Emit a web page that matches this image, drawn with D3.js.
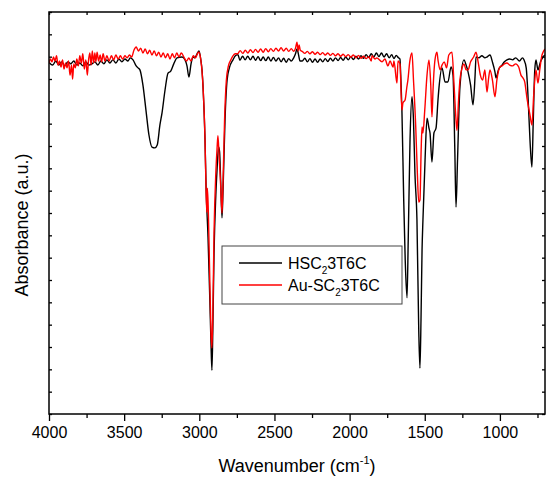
<!DOCTYPE html>
<html><head><meta charset="utf-8">
<script src="https://cdn.jsdelivr.net/npm/d3@7"></script>
<style>
body{margin:0;background:#fff}
svg{display:block}
text{font-family:Arial,"Liberation Sans",Helvetica,sans-serif;fill:#000}
</style>
</head><body>
<svg id="chart" width="546" height="479"></svg>
<script>
// ---------- DATA ----------
const seriesNames = ["HSC2 3T6C", "Au-SC2 3T6C"];
const seriesColors = ["#000000", "#ff0000"];

// HSC2 3T6C : [wavenumber (cm-1), absorbance (a.u.)]
const hscData = [
[4000,87.6],[3995,87.3],[3975,86.8],[3955,87.8],[3935,86.8],[3915,87.6],[3895,86.6],[3875,87.6],[3855,87.1],[3835,87.8],
[3815,86.8],[3795,87.3],[3775,86.6],[3755,87.6],[3735,86.8],[3715,87.1],[3695,87.6],[3675,86.8],[3655,87.8],[3635,87.1],
[3615,88.1],[3595,87.3],[3575,88.1],[3555,87.3],[3535,88.3],[3515,87.6],[3495,88.3],[3475,87.8],[3460,88.6],[3441,88.1],
[3420,86.6],[3408,86.1],[3395,85.6],[3375,81.8],[3355,75.6],[3335,69.4],[3315,66.4],[3295,66.2],[3280,66.9],[3262,71.9],
[3248,74.9],[3228,80.6],[3208,84.8],[3190,85.3],[3170,87.1],[3148,88.6],[3115,88.8],[3095,88.1],[3082,86.6],[3069,83.8],
[3055,87.1],[3042,88.8],[3030,88.6],[3015,89.6],[3002,90.3],[2990,88.1],[2982,85.6],[2975,81.3],[2962,68.2],[2955,56.5],
[2942,44.0],[2930,28.4],[2922,17.2],[2916,10.9],[2910,20.9],[2902,40.0],[2890,54.5],[2882,60.7],[2872,66.4],[2865,65.2],
[2858,58.2],[2849,48.8],[2842,55.7],[2829,73.1],[2815,83.1],[2800,86.1],[2776,88.1],[2760,89.1],[2743,89.4],
[2730,88.0],[2712,89.0],[2695,88.1],[2678,89.0],[2660,88.1],[2643,89.0],[2626,88.0],[2609,88.9],[2592,87.9],[2575,88.8],
[2558,87.9],[2541,88.8],[2524,87.8],[2507,88.7],[2490,87.8],[2473,88.6],[2456,87.6],[2439,88.5],[2422,87.5],[2405,88.4],
[2388,87.8],[2372,88.6],[2360,89.6],[2350,90.8],[2340,89.4],[2330,87.8],
[2315,87.8],[2298,88.5],[2281,87.6],[2264,88.4],[2247,87.5],[2230,88.3],[2213,87.5],[2196,88.3],[2179,87.6],[2162,88.4],
[2145,87.7],[2128,88.5],[2111,87.8],[2094,88.6],[2077,87.9],[2060,88.7],[2043,88.0],[2026,88.8],[2009,88.1],[1992,88.9],
[1975,88.2],[1958,89.0],[1941,88.3],[1924,89.1],[1907,88.5],[1890,89.4],[1873,88.7],[1856,89.6],[1839,88.8],[1822,89.8],
[1805,88.9],[1788,89.8],[1771,88.8],[1754,89.6],[1737,88.6],[1720,89.4],[1705,88.4],[1690,89.2],[1675,88.6],[1665,88.3],
[1660,84.3],[1652,75.6],[1640,53.2],[1630,38.3],[1618,28.9],[1610,43.3],[1598,68.2],[1585,78.9],[1575,73.1],[1565,59.5],
[1552,48.3],[1540,20.9],[1532,11.4],[1525,23.4],[1518,40.8],[1512,48.3],[1498,63.2],[1485,73.6],[1472,71.1],[1465,69.9],
[1452,62.7],[1439,69.9],[1425,71.1],[1412,78.1],[1405,81.3],[1385,86.1],[1365,82.6],[1346,82.6],[1325,86.3],[1312,84.3],
[1300,65.7],[1292,51.5],[1282,63.2],[1266,81.3],[1239,88.1],[1225,86.8],[1212,85.1],[1195,81.8],[1179,76.9],[1165,84.3],
[1159,88.8],[1140,88.6],[1120,89.1],[1100,88.6],[1086,88.8],[1066,89.3],[1050,87.6],[1033,85.1],[1026,83.6],[1010,85.6],
[986,86.8],[970,87.6],[953,88.1],[935,88.3],[915,88.1],[895,88.6],[870,87.8],[850,88.6],[840,88.1],[825,86.1],
[815,80.6],[800,68.2],[787,61.4],[778,73.1],[768,85.6],[760,88.1],[747,85.6],[730,87.6],[713,88.8],[700,89.3]
];

// Au-SC2 3T6C : [wavenumber (cm-1), absorbance (a.u.)]
const auData = [
[4000,87.3],[3990,88.3],[3980,87.6],[3970,88.8],[3960,87.8],[3950,89.1],[3940,86.8],[3930,87.8],[3920,86.3],[3910,88.1],
[3900,85.8],[3890,87.3],[3880,86.1],[3870,87.8],[3860,84.3],[3850,86.8],[3843,83.3],[3835,87.1],[3825,86.1],[3815,88.3],
[3805,86.6],[3795,89.1],[3785,87.3],[3775,89.6],[3765,85.8],[3755,88.1],[3745,84.3],[3738,87.6],[3728,89.8],[3720,86.8],
[3712,90.3],[3703,87.3],[3695,89.8],[3688,87.6],[3680,90.0],[3670,87.8],[3660,89.3],[3650,87.6],[3640,89.6],[3628,87.8],
[3615,89.1],[3600,87.8],[3585,89.1],[3570,88.1],[3555,89.3],[3540,88.3],[3525,89.1],[3510,88.3],[3495,89.1],[3480,88.6],
[3465,89.3],[3450,88.8],[3435,90.5],[3420,91.3],[3405,90.3],[3390,91.0],[3375,89.8],[3360,90.8],[3345,89.6],[3330,90.5],
[3315,89.3],[3300,90.3],[3285,89.1],[3270,90.0],[3255,88.8],[3240,89.8],[3225,88.6],[3210,89.6],[3195,88.3],[3180,89.6],
[3165,88.6],[3150,89.8],[3135,88.8],[3120,89.8],[3100,88.6],[3085,87.8],[3070,88.6],[3055,87.8],[3040,89.1],[3025,88.6],
[3010,89.8],[3002,90.0],[2990,88.1],[2982,85.3],[2975,81.3],[2962,68.2],[2955,55.5],[2950,50.2],[2946,56.2],[2940,50.5],
[2930,33.0],[2922,20.0],[2916,16.4],[2910,25.0],[2902,45.0],[2890,60.0],[2882,66.0],[2876,69.2],[2868,64.0],[2858,57.0],
[2849,50.0],[2842,58.0],[2832,73.0],[2820,83.0],[2805,86.8],[2790,88.1],[2776,89.1],[2760,89.6],
[2745,89.6],[2728,90.4],[2711,89.7],[2694,90.5],[2677,89.8],[2660,90.6],[2643,89.9],[2626,90.7],[2609,90.0],[2592,90.8],
[2575,90.0],[2558,90.9],[2541,90.1],[2524,90.9],[2507,90.2],[2490,91.0],[2473,90.3],[2456,91.1],[2439,90.3],[2422,91.0],
[2405,90.2],[2388,90.9],[2372,90.2],[2360,91.0],[2350,92.5],[2343,90.3],[2336,91.8],[2328,90.5],
[2315,90.2],[2298,89.7],[2281,90.2],[2264,89.6],[2247,90.1],[2230,89.5],[2213,90.0],[2196,89.4],[2179,89.9],[2162,89.3],
[2145,89.8],[2128,89.2],[2111,89.7],[2094,89.1],[2077,89.6],[2060,89.0],[2043,89.5],[2026,88.9],[2009,89.4],[1992,88.8],
[1975,89.3],[1958,88.6],[1941,89.2],[1924,88.5],[1907,89.0],[1890,88.4],[1873,88.9],[1856,87.8],[1851,89.1],[1831,88.3],
[1820,88.6],[1784,87.6],[1765,88.3],[1745,86.6],[1731,87.8],[1711,86.3],[1705,87.8],[1685,82.3],[1678,87.8],[1665,87.1],
[1652,75.6],[1645,77.4],[1631,78.1],[1620,81.1],[1612,83.1],[1600,87.6],[1585,89.8],[1575,83.1],[1560,71.4],[1550,60.7],
[1540,52.7],[1532,53.2],[1524,65.7],[1518,71.4],[1512,69.9],[1500,75.6],[1485,84.3],[1472,88.1],[1460,81.8],[1452,73.9],
[1445,80.6],[1432,88.1],[1419,90.0],[1412,88.1],[1398,85.6],[1385,86.8],[1370,87.6],[1355,86.1],[1340,89.3],[1319,90.0],
[1305,81.8],[1292,73.1],[1286,70.6],[1275,78.1],[1266,83.1],[1250,86.3],[1239,87.1],[1225,85.6],[1212,85.6],[1195,87.6],
[1175,88.8],[1159,90.0],[1145,87.6],[1130,84.3],[1115,83.1],[1100,85.6],[1086,80.1],[1075,83.6],[1066,85.6],[1050,83.1],
[1033,78.9],[1020,83.1],[1000,86.3],[986,86.6],[970,87.1],[953,87.3],[935,86.8],[915,86.6],[895,87.1],[875,86.3],
[860,84.3],[847,83.6],[835,82.6],[820,78.6],[800,74.4],[787,71.9],[775,79.4],[760,85.6],[747,82.3],[735,85.6],
[720,89.3],[713,90.0],[700,90.8]
];

const xMajorTicks = [4000, 3500, 3000, 2500, 2000, 1500, 1000];
const xTickLabels = ["4000", "3500", "3000", "2500", "2000", "1500", "1000"];
const xMinorTicks = [3750, 3250, 2750, 2250, 1750, 1250, 750];
const xDomain = [4000, 700];
const yDomain = [0, 100];
const xTitle = "Wavenumber (cm";
const yTitle = "Absorbance (a.u.)";

// ---------- LAYOUT ----------
const svg = d3.select("#chart");
const L = 49, R = 545, T = 12, B = 414;
const x = d3.scaleLinear().domain(xDomain).range([L, R]);
const y = d3.scaleLinear().domain(yDomain).range([B, T]);

svg.append("defs").append("clipPath").attr("id", "clip")
  .append("rect").attr("x", L).attr("y", T).attr("width", R - L).attr("height", B - T);

const line = d3.line().x(d => x(d[0])).y(d => y(d[1])).curve(d3.curveMonotoneX);

const plot = svg.append("g").attr("clip-path", "url(#clip)");
[hscData, auData].forEach((data, i) => {
  plot.append("path").datum(data)
    .attr("fill", "none").attr("stroke", seriesColors[i])
    .attr("stroke-width", 1.4).attr("stroke-linejoin", "round")
    .attr("d", line);
});

// y tick values (no labels)
const yTicks = d3.range(0, 101, 100 / 18);

// axes
const axB = svg.append("g").attr("transform", `translate(0,${B})`)
  .call(d3.axisBottom(x).tickValues(xMajorTicks).tickFormat((d, i) => xTickLabels[i]).tickSize(7).tickSizeOuter(0).tickPadding(6));
axB.selectAll("text").attr("font-size", 16).attr("font-family", "Arial, 'Liberation Sans', sans-serif");
svg.append("g").attr("transform", `translate(0,${B})`)
  .call(d3.axisBottom(x).tickValues(xMinorTicks).tickFormat("").tickSize(4).tickSizeOuter(0));
svg.append("g").attr("transform", `translate(0,${T})`)
  .call(d3.axisBottom(x).tickValues(xMajorTicks.concat(xMinorTicks)).tickFormat("").tickSize(3).tickSizeOuter(0));
svg.append("g").attr("transform", `translate(${L},0)`)
  .call(d3.axisRight(y).tickValues(yTicks).tickFormat("").tickSize(3).tickSizeOuter(0));
svg.append("g").attr("transform", `translate(${R},0)`)
  .call(d3.axisLeft(y).tickValues(yTicks).tickFormat("").tickSize(3).tickSizeOuter(0));

svg.selectAll(".domain").remove();
svg.selectAll(".tick line").attr("stroke", "#000").attr("stroke-width", 1.3);

// frame
svg.append("rect").attr("x", L).attr("y", T).attr("width", R - L).attr("height", B - T)
  .attr("fill", "none").attr("stroke", "#000").attr("stroke-width", 1.5);

// axis titles
const xt = svg.append("text").attr("x", (L + R) / 2).attr("y", 472)
  .attr("text-anchor", "middle").attr("font-size", 18);
xt.append("tspan").text(xTitle);
xt.append("tspan").attr("font-size", 11).attr("dy", -8).text("-1");
xt.append("tspan").attr("dy", 8).text(")");

svg.append("text").attr("transform", `translate(28,${(T + B) / 2 + 12}) rotate(-90)`)
  .attr("text-anchor", "middle").attr("font-size", 18).text(yTitle);

// legend
const lg = svg.append("g");
lg.append("rect").attr("x", 222).attr("y", 246).attr("width", 180).attr("height", 58)
  .attr("fill", "#fff").attr("stroke", "#444").attr("stroke-width", 1);
const legendItems = [
  {pre: "HSC", sub: "2", post: "3T6C", color: seriesColors[0], yy: 263},
  {pre: "Au-SC", sub: "2", post: "3T6C", color: seriesColors[1], yy: 285}
];
legendItems.forEach(it => {
  lg.append("line").attr("x1", 239).attr("x2", 282).attr("y1", it.yy).attr("y2", it.yy)
    .attr("stroke", it.color).attr("stroke-width", 1.5);
  const t = lg.append("text").attr("x", 288).attr("y", it.yy + 6).attr("font-size", 16);
  t.append("tspan").text(it.pre);
  t.append("tspan").attr("font-size", 10).attr("dy", 5).text(it.sub);
  t.append("tspan").attr("dy", -5).text(it.post);
});
</script>
</body></html>
